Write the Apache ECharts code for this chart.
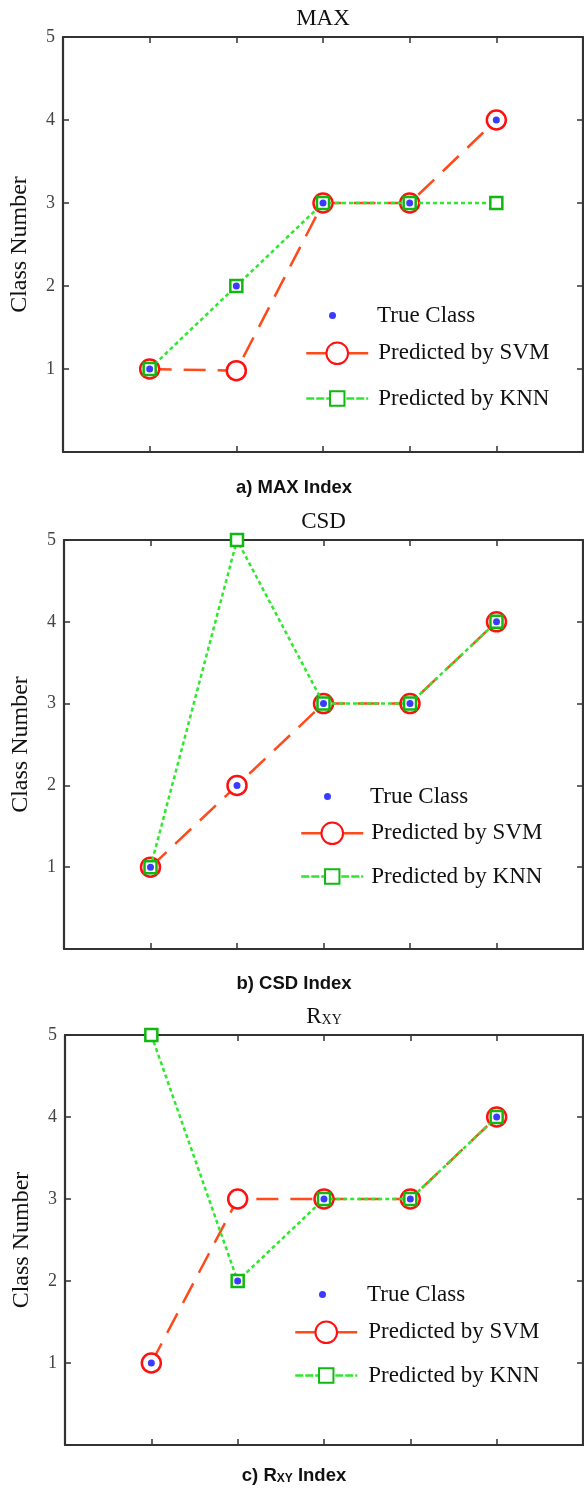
<!DOCTYPE html>
<html>
<head>
<meta charset="utf-8">
<script src="https://cdn.jsdelivr.net/npm/echarts@6/dist/echarts.min.js"></script>
<style>
  html, body { margin: 0; padding: 0; background: #fff; }
  #chart { width: 584px; height: 1490px; }
</style>
</head>
<body>
<div id="chart"></div>
<script>
// sample positions on the x axis (no labels in the original)
const positions = [1, 2, 3, 4, 5];

// MAX index
const maxTrue = [1, 2, 3, 3, 4];
const maxSvm = [1, 0.98, 3, 3, 4];
const maxKnn = [1, 2, 3, 3, 3];

// CSD index
const csdTrue = [1, 2, 3, 3, 4];
const csdSvm = [1, 2, 3, 3, 4];
const csdKnn = [1, 5, 3, 3, 4];

// Rxy index
const rxyTrue = [1, 2, 3, 3, 4];
const rxySvm = [1, 3, 3, 3, 4];
const rxyKnn = [5, 2, 3, 3, 4];

const yTicks = [0, 1, 2, 3, 4, 5];

const SERIF = '"Liberation Serif", "Times New Roman", serif';
const SANS = '"Liberation Sans", Arial, sans-serif';
const AXIS = '#333';

const panels = [
  { title: 'MAX', caption: '{n|a) MAX Index}', trueV: maxTrue, svm: maxSvm, knn: maxKnn,
    grid: { left: 63, top: 37, width: 520, height: 415 }, captionY: 478,
    leg: { dotX: 329, lineX: 305, textX: 377, y: [315, 355, 398] } },
  { title: 'CSD', caption: '{n|b) CSD Index}', trueV: csdTrue, svm: csdSvm, knn: csdKnn,
    grid: { left: 64, top: 540, width: 519, height: 409 }, captionY: 974,
    leg: { dotX: 324, lineX: 300, textX: 370, y: [796, 835, 876] } },
  { title: '{r|R}{s|XY}', caption: '{n|c) R}{s|XY}{n| Index}', trueV: rxyTrue, svm: rxySvm, knn: rxyKnn,
    grid: { left: 65, top: 1035, width: 518, height: 410 }, captionY: 1466,
    leg: { dotX: 319, lineX: 294, textX: 367, y: [1294, 1334, 1375] } }
];

const pts = vals => positions.map((x, i) => [x, vals[i]]);

const option = {
  animation: false,
  backgroundColor: '#fff',
  title: [], legend: [], grid: [], xAxis: [], yAxis: [], series: []
};

const legendText = { fontFamily: SERIF, fontSize: 23, color: '#111', lineHeight: 22 };

panels.forEach((p, i) => {
  const g = p.grid;
  option.grid.push(Object.assign({ containLabel: false }, g));

  // title
  option.title.push({
    text: p.title,
    left: g.left + g.width / 2, top: g.top - 30, textAlign: 'center', padding: 0,
    textStyle: {
      fontFamily: SERIF, fontSize: 23, fontWeight: 'normal', color: '#111',
      rich: {
        r: { fontFamily: SERIF, fontSize: 23, color: '#111' },
        s: { fontFamily: SERIF, fontSize: 14, color: '#111', padding: [8, 0, 0, 0] }
      }
    }
  });
  // caption
  option.title.push({
    text: p.caption,
    left: 294, top: p.captionY, textAlign: 'center', padding: 0,
    textStyle: {
      rich: {
        n: { fontFamily: SANS, fontSize: 18.5, fontWeight: 'bold', color: '#111' },
        s: { fontFamily: SANS, fontSize: 12, fontWeight: 'bold', color: '#111', padding: [6, 0, 0, 0] }
      }
    }
  });

  const xBase = {
    type: 'value', gridIndex: i, min: 0, max: 6, interval: 1,
    axisLine: { show: true, onZero: false, lineStyle: { color: AXIS, width: 2.2 } },
    axisTick: { show: true, inside: true, length: 6, lineStyle: { color: AXIS, width: 1.5 } },
    axisLabel: { show: false }, splitLine: { show: false }
  };
  option.xAxis.push(Object.assign({ position: 'bottom' }, xBase));
  option.xAxis.push(Object.assign({ position: 'top' }, xBase));

  const yBase = {
    type: 'value', gridIndex: i, min: yTicks[0], max: yTicks[yTicks.length - 1], interval: 1,
    axisLine: { show: true, onZero: false, lineStyle: { color: AXIS, width: 2.2 } },
    axisTick: { show: true, inside: true, length: 6, lineStyle: { color: AXIS, width: 1.5 } },
    splitLine: { show: false }
  };
  option.yAxis.push(Object.assign({
    position: 'left',
    name: 'Class Number', nameLocation: 'middle', nameGap: 31,
    nameTextStyle: { fontFamily: SERIF, fontSize: 24, color: '#111' },
    axisLabel: { show: true, margin: 8, fontFamily: SERIF, fontSize: 18, color: '#444',
      formatter: v => (v === 0 ? '' : String(v)) }
  }, yBase));
  option.yAxis.push(Object.assign({ position: 'right', axisLabel: { show: false } }, yBase));

  const xi = i * 2, yi = i * 2;
  option.series.push({
    name: 'Predicted by SVM', type: 'line', xAxisIndex: xi, yAxisIndex: yi,
    data: pts(p.svm), symbol: 'circle', symbolSize: 19, z: 2,
    lineStyle: { color: '#ff4a1a', width: 2.5, type: [22, 12] },
    itemStyle: { color: '#fff', borderColor: '#ff1010', borderWidth: 2.5 }
  });
  option.series.push({
    name: 'Predicted by KNN', type: 'line', xAxisIndex: xi, yAxisIndex: yi,
    data: pts(p.knn), symbol: 'rect', symbolSize: 12, z: 3,
    lineStyle: { color: '#2ee82e', width: 2.5, type: [4, 3] },
    itemStyle: { color: '#fff', borderColor: '#10b810', borderWidth: 2.5 }
  });
  option.series.push({
    name: 'True Class', type: 'scatter', xAxisIndex: xi, yAxisIndex: yi,
    data: pts(p.trueV), symbol: 'circle', symbolSize: 7, z: 4,
    itemStyle: { color: '#0a0aff' }
  });

  const L = p.leg;
  option.legend.push({
    data: ['True Class'], orient: 'vertical', padding: 0, selectedMode: false,
    left: L.dotX, top: L.y[0] - 11, itemWidth: 7, itemHeight: 7, icon: 'circle',
    textStyle: Object.assign({ padding: [0, 0, 0, L.textX - L.dotX - 12] }, legendText)
  });
  option.legend.push({
    data: ['Predicted by SVM'], orient: 'vertical', padding: 0, selectedMode: false,
    left: L.lineX, top: L.y[1] - 13.5, itemWidth: 62, itemHeight: 27,
    lineStyle: { type: 'solid', width: 2.5 },
    textStyle: Object.assign({ padding: [0, 0, 0, L.textX - L.lineX - 67] }, legendText)
  });
  option.legend.push({
    data: ['Predicted by KNN'], orient: 'vertical', padding: 0, selectedMode: false,
    left: L.lineX, top: L.y[2] - 11, itemWidth: 62, itemHeight: 18,
    lineStyle: { type: [8, 2], width: 2.5 },
    textStyle: Object.assign({ padding: [0, 0, 0, L.textX - L.lineX - 67] }, legendText)
  });
});

const chart = echarts.init(document.getElementById('chart'), null, { renderer: 'canvas' });
chart.setOption(option);
</script>
</body>
</html>
